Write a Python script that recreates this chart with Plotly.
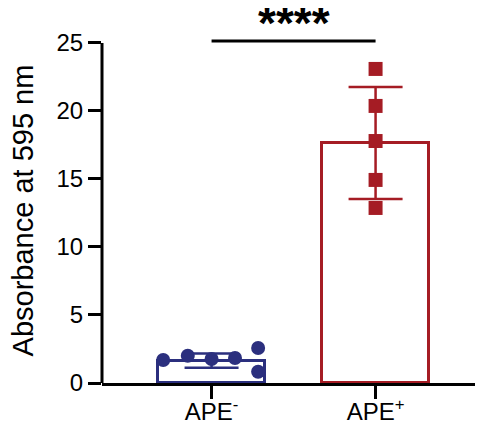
import plotly.graph_objects as go

# ---- data ----
categories = ["APE<sup>-</sup>", "APE<sup>+</sup>"]
cat_pos = [0, 1]
bar_means = [1.65, 17.65]
bar_sd = [0.52, 4.12]

neg_x = [-0.295, -0.145, 0.0, 0.143, 0.284, 0.284]
neg_y = [1.69, 2.0, 1.76, 1.84, 2.57, 0.83]
pos_x = [1, 1, 1, 1, 1]
pos_y = [23.09, 20.37, 17.79, 14.93, 12.87]

y_ticks = [0, 5, 10, 15, 20, 25]
y_title = "Absorbance at 595 nm"
sig_text = "<b>****</b>"

NAVY = "#2B2F7E"
RED = "#A51C24"
FONT = "Arial, Liberation Sans, sans-serif"

fig = go.Figure()
colors = [NAVY, RED]
for i in range(2):
    fig.add_trace(go.Bar(
        x=[cat_pos[i]], y=[bar_means[i]], width=0.65,
        marker=dict(color="white", line=dict(color=colors[i], width=3)),
        error_y=dict(type="data", array=[bar_sd[i]], visible=True,
                     color=colors[i], thickness=2.5, width=27),
        showlegend=False,
    ))

fig.add_trace(go.Scatter(x=neg_x, y=neg_y, mode="markers",
                         marker=dict(symbol="circle", size=14, color=NAVY),
                         showlegend=False, cliponaxis=False))
fig.add_trace(go.Scatter(x=pos_x, y=pos_y, mode="markers",
                         marker=dict(symbol="square", size=14, color=RED),
                         showlegend=False, cliponaxis=False))

# y axis line only up to 25
fig.add_shape(type="line", xref="paper", yref="y", x0=0, x1=0, y0=0, y1=25,
              line=dict(color="black", width=3))
# significance bar
fig.add_shape(type="line", xref="x", yref="y", x0=0, x1=1, y0=25.15, y1=25.15,
              line=dict(color="black", width=3))
fig.add_annotation(x=0.5, y=26.5, xref="x", yref="y", text=sig_text,
                   showarrow=False, font=dict(family=FONT, size=46, color="black"),
                   yanchor="middle")
# y axis title
fig.add_annotation(x=-0.207, y=12.7, xref="paper", yref="y", text=y_title,
                   textangle=-90, showarrow=False, xanchor="center", yanchor="middle",
                   font=dict(family=FONT, size=29, color="black"))

fig.update_layout(
    width=475, height=421,
    margin=dict(l=94, r=0, t=0, b=46, autoexpand=False),
    plot_bgcolor="white", paper_bgcolor="white",
    bargap=0,
    font=dict(family=FONT, color="black"),
    xaxis=dict(range=[-0.668, 1.655], tickvals=cat_pos, ticktext=categories,
               showline=True, linecolor="black", linewidth=3,
               ticks="outside", ticklen=13, tickwidth=3, tickcolor="black",
               ticklabelstandoff=-8,
               tickfont=dict(size=24, family=FONT, color="black"),
               showgrid=False, zeroline=False, automargin=False),
    yaxis=dict(range=[0, 27.57], tickvals=y_ticks,
               showline=False,
               ticks="outside", ticklen=13, tickwidth=3, tickcolor="black",
               tickfont=dict(size=24, family=FONT, color="black"),
               showgrid=False, zeroline=False, automargin=False),
)

fig.write_html("out.html")
